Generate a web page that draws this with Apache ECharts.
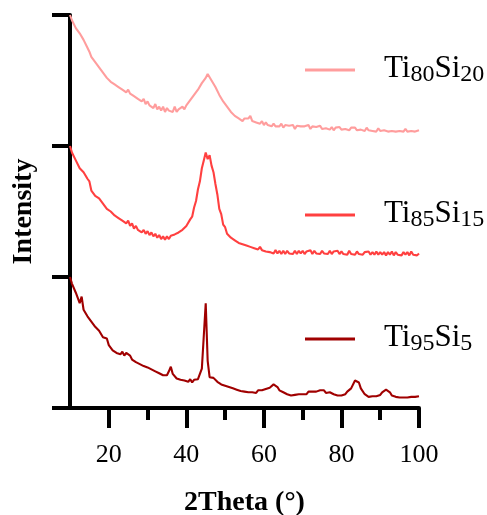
<!DOCTYPE html>
<html>
<head>
<meta charset="utf-8">
<script src="https://cdn.jsdelivr.net/npm/echarts@6/dist/echarts.min.js"></script>
<style>html,body{margin:0;padding:0;background:#fff}#c{width:487px;height:515px}</style>
</head>
<body>
<div id="c"></div>
<script>
// 2Theta grid: 10 to 100 deg, 0.5 deg step
const thetaStart = 10, thetaStep = 0.5;
const seriesNames = ['Ti80Si20', 'Ti85Si15', 'Ti95Si5'];
const xTickMajor = [20, 40, 60, 80, 100];
const xTickMinor = [30, 50, 70, 90];

const ti80si20 = [
3.00,2.96,2.95,2.90,2.90,2.86,2.86,2.81,2.80,2.75,
2.72,2.68,2.68,2.64,2.64,2.60,2.60,2.56,2.55,2.52,
2.53,2.49,2.50,2.47,2.48,2.45,2.46,2.43,2.44,2.41,
2.43,2.40,2.41,2.38,2.39,2.36,2.37,2.34,2.36,2.32,
2.34,2.31,2.32,2.29,2.32,2.28,2.30,2.27,2.30,2.26,
2.29,2.27,2.28,2.26,2.30,2.26,2.28,2.27,2.30,2.28,
2.31,2.31,2.35,2.34,2.39,2.38,2.43,2.42,2.48,2.47,
2.52,2.55,2.56,2.50,2.49,2.45,2.44,2.39,2.39,2.34,
2.34,2.30,2.30,2.26,2.26,2.23,2.24,2.21,2.22,2.19,
2.21,2.20,2.21,2.23,2.19,2.20,2.18,2.19,2.17,2.19,
2.16,2.18,2.16,2.175,2.15,2.17,2.15,2.165,2.15,2.17,
2.14,2.16,2.145,2.155,2.14,2.16,2.13,2.155,2.14,2.15,
2.135,2.15,2.14,2.16,2.13,2.15,2.135,2.145,2.13,2.155,
2.13,2.145,2.135,2.15,2.125,2.145,2.12,2.14,2.13,2.145,
2.125,2.14,2.13,2.145,2.12,2.14,2.125,2.14,2.12,2.135,
2.125,2.135,2.115,2.14,2.12,2.13,2.115,2.13,2.11,2.135,
2.115,2.13,2.12,2.13,2.11,2.125,2.115,2.13,2.11,2.125,
2.115,2.125,2.11,2.13,2.11,2.125,2.115,2.125,2.11,2.125,
2.12
];

const ti85si15 = [
2.00,1.95,1.94,1.89,1.88,1.83,1.84,1.80,1.80,1.75,
1.73,1.66,1.66,1.62,1.63,1.60,1.60,1.56,1.56,1.52,
1.53,1.50,1.50,1.47,1.48,1.45,1.46,1.43,1.44,1.41,
1.43,1.39,1.41,1.37,1.39,1.36,1.375,1.34,1.36,1.33,
1.35,1.32,1.34,1.31,1.33,1.30,1.32,1.29,1.31,1.285,
1.31,1.29,1.315,1.30,1.325,1.31,1.34,1.33,1.36,1.35,
1.39,1.39,1.44,1.46,1.53,1.58,1.67,1.73,1.83,1.89,
1.95,1.90,1.93,1.85,1.80,1.71,1.63,1.52,1.48,1.40,
1.38,1.33,1.33,1.30,1.30,1.28,1.29,1.26,1.275,1.25,
1.265,1.24,1.255,1.23,1.245,1.22,1.235,1.21,1.23,1.205,
1.22,1.195,1.21,1.19,1.205,1.18,1.205,1.18,1.20,1.175,
1.20,1.175,1.20,1.18,1.195,1.175,1.20,1.175,1.20,1.18,
1.20,1.175,1.195,1.18,1.205,1.175,1.20,1.18,1.195,1.175,
1.20,1.18,1.195,1.175,1.20,1.175,1.195,1.18,1.20,1.175,
1.195,1.175,1.19,1.17,1.20,1.175,1.19,1.17,1.195,1.175,
1.19,1.17,1.19,1.175,1.195,1.17,1.19,1.17,1.195,1.17,
1.19,1.17,1.19,1.165,1.19,1.17,1.195,1.165,1.19,1.17,
1.185,1.165,1.19,1.17,1.19,1.165,1.195,1.17,1.185,1.165,
1.18
];

const ti95si5 = [
1.00,0.95,0.94,0.88,0.88,0.80,0.85,0.75,0.74,0.70,
0.70,0.66,0.67,0.62,0.63,0.59,0.59,0.54,0.54,0.53,
0.48,0.48,0.44,0.45,0.42,0.43,0.41,0.43,0.40,0.42,
0.41,0.40,0.37,0.38,0.35,0.36,0.335,0.35,0.32,0.335,
0.31,0.32,0.295,0.305,0.28,0.29,0.265,0.28,0.25,0.265,
0.25,0.28,0.315,0.26,0.245,0.225,0.24,0.215,0.23,0.21,
0.225,0.20,0.22,0.195,0.215,0.20,0.22,0.235,0.30,0.55,
0.80,0.36,0.235,0.25,0.23,0.225,0.20,0.205,0.18,0.19,
0.17,0.18,0.16,0.17,0.15,0.16,0.14,0.15,0.13,0.14,
0.125,0.135,0.12,0.13,0.12,0.135,0.115,0.135,0.12,0.135,
0.13,0.145,0.14,0.155,0.155,0.18,0.175,0.16,0.135,0.135,
0.12,0.12,0.105,0.11,0.095,0.105,0.10,0.105,0.105,0.11,
0.105,0.12,0.105,0.125,0.11,0.125,0.12,0.125,0.125,0.135,
0.12,0.135,0.115,0.13,0.12,0.12,0.105,0.11,0.095,0.10,
0.095,0.11,0.105,0.125,0.125,0.15,0.165,0.21,0.22,0.195,
0.15,0.135,0.105,0.10,0.085,0.095,0.09,0.095,0.09,0.105,
0.10,0.12,0.12,0.14,0.125,0.12,0.095,0.10,0.085,0.095,
0.08,0.095,0.08,0.085,0.08,0.085,0.085,0.09,0.085,0.095,
0.09
];

const seriesValues = [ti80si20, ti85si15, ti95si5];
const colors = ['#ff9d9d', '#ff4040', '#a00000'];
const legendTops = [53, 198, 322];
const legendRich = {
  'Ti80Si20': '{f|Ti}{s|80}{m|Si}{s|20}',
  'Ti85Si15': '{f|Ti}{s|85}{m|Si}{s|15}',
  'Ti95Si5': '{f|Ti}{s|95}{m|Si}{s|5}'
};

const FONT = '"Liberation Serif", "Times New Roman", serif';

function toPairs(vals) {
  return vals.map((v, i) => [thetaStart + i * thetaStep, v]);
}

const chart = echarts.init(document.getElementById('c'), null, {renderer: 'canvas'});
chart.setOption({
  animation: false,
  backgroundColor: '#fff',
  grid: {left: 70, right: 68, top: 15, bottom: 107, containLabel: false, outerBoundsMode: 'none'},
  xAxis: [{
    type: 'value', min: 10, max: 100, interval: 10,
    name: '2Theta (°)', nameLocation: 'middle', nameGap: 81,
    nameTextStyle: {fontFamily: FONT, fontSize: 28, fontWeight: 'bold', color: '#000'},
    axisLine: {show: true, lineStyle: {color: '#000', width: 4}},
    axisTick: {show: true, customValues: xTickMajor, length: 20, lineStyle: {color: '#000', width: 4}},
    axisLabel: {show: true, customValues: xTickMajor, margin: 34, fontFamily: FONT, fontSize: 26, color: '#000'},
    splitLine: {show: false}
  }, {
    type: 'value', min: 10, max: 100, interval: 10, position: 'bottom', gridIndex: 0,
    axisLine: {show: false},
    axisTick: {show: true, customValues: xTickMinor, length: 12, lineStyle: {color: '#000', width: 4}},
    axisLabel: {show: false},
    splitLine: {show: false}
  }],
  yAxis: {
    type: 'value', min: 0, max: 3, interval: 1,
    name: 'Intensity', nameLocation: 'middle', nameGap: 32,
    nameTextStyle: {fontFamily: FONT, fontSize: 28, fontWeight: 'bold', color: '#000'},
    axisLine: {show: true, lineStyle: {color: '#000', width: 4}},
    axisTick: {show: true, length: 18, lineStyle: {color: '#000', width: 4}},
    axisLabel: {show: false},
    splitLine: {show: false}
  },
  legend: seriesNames.map((n, i) => ({
    data: [n], left: 305, top: legendTops[i], icon: 'rect', itemWidth: 50, itemHeight: 3,
    selectedMode: false, padding: 0,
    formatter: name => legendRich[name],
    textStyle: {
      color: '#000', fontFamily: FONT,
      rich: {
        f: {fontFamily: FONT, fontSize: 31, color: '#000', padding: [0, 0, 3, 24], verticalAlign: 'bottom'},
        m: {fontFamily: FONT, fontSize: 31, color: '#000', padding: [0, 0, 3, 0], verticalAlign: 'bottom'},
        s: {fontFamily: FONT, fontSize: 24, color: '#000', verticalAlign: 'bottom'}
      }
    }
  })),
  series: seriesNames.map((n, i) => ({
    name: n, type: 'line', xAxisIndex: 0, data: toPairs(seriesValues[i]),
    showSymbol: false, symbol: 'none', color: colors[i],
    lineStyle: {color: colors[i], width: 2.1}
  }))
});
</script>
</body>
</html>
